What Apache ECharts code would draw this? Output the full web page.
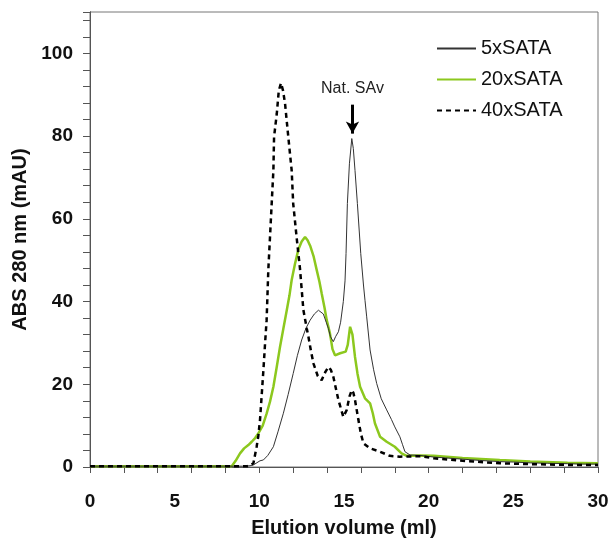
<!DOCTYPE html>
<html>
<head>
<meta charset="utf-8">
<script src="https://cdn.jsdelivr.net/npm/echarts@6/dist/echarts.min.js"></script>
<style>
html,body{margin:0;padding:0;background:#fff;}
#chart{width:610px;height:539px;}
</style>
</head>
<body>
<div id="chart"></div>
<script>
// ---- data (elution volume ml, absorbance mAU) ----
const seriesNames = ['5xSATA', '20xSATA', '40xSATA'];

const x5 = [0, 2, 4, 6, 8, 9, 9.45, 9.65, 10.04, 10.24, 10.5, 10.83, 11.1, 11.42, 11.7, 12.0, 12.25, 12.5, 12.75, 13.0, 13.25, 13.49, 13.78, 13.95, 14.08, 14.2, 14.37, 14.5, 14.67, 14.8, 14.96, 15.06, 15.12, 15.2, 15.32, 15.46, 15.55, 15.65, 15.79, 15.99, 16.15, 16.24, 16.34, 16.54, 16.75, 16.93, 17.2, 17.52, 17.8, 18.0, 18.3, 18.45, 18.6, 18.9, 19.5, 20.3, 21, 22, 23, 24.2, 25, 26, 27, 28.2, 29, 30];
const y5 = [0.2, 0.2, 0.2, 0.2, 0.2, 0.2, 0.3, 0.5, 1.5, 1.7, 2.8, 4.9, 8.5, 13, 17.5, 22.6, 27, 30.7, 33.5, 35.5, 37, 37.9, 37, 35, 33.5, 31.5, 30.3, 31.5, 32.7, 35, 40, 45, 51.6, 63.7, 73.3, 79.4, 77, 71.7, 63.7, 51.6, 44, 40.3, 36.3, 28.3, 23.5, 20.2, 16.5, 13.8, 11.5, 9.7, 7.3, 5.5, 3.7, 2.9, 2.8, 2.4, 2.2, 1.9, 1.6, 1.3, 1.2, 1.0, 0.9, 0.8, 0.7, 0.7];

const x20 = [0, 2, 4, 6, 8, 8.37, 8.6, 8.86, 9.1, 9.35, 9.55, 9.75, 9.94, 10.2, 10.43, 10.63, 10.83, 11.02, 11.22, 11.42, 11.62, 11.78, 11.91, 12.1, 12.3, 12.5, 12.7, 12.85, 13.0, 13.2, 13.39, 13.55, 13.68, 13.85, 13.98, 14.17, 14.32, 14.47, 14.77, 15.1, 15.22, 15.36, 15.42, 15.5, 15.65, 15.8, 15.95, 16.24, 16.54, 16.7, 16.83, 17.13, 17.52, 18.0, 18.4, 18.7, 19.5, 20.3, 22, 24.2, 26, 28.2, 30];
const y20 = [0.2, 0.2, 0.2, 0.2, 0.2, 0.2, 1.5, 3.3, 4.5, 5.3, 6.1, 7.0, 8.1, 10, 12.9, 15.8, 19.4, 24, 29, 33.5, 37.9, 41.5, 45.2, 49, 52.5, 54.5, 55.6, 54.8, 53.5, 51, 47.6, 44.8, 42, 38.5, 35.5, 32.3, 28.5, 27, 27.5, 27.9, 29.5, 33.9, 34.3, 32, 26.6, 22.5, 19.4, 16.6, 15.4, 13, 10.5, 7.3, 6.1, 4.9, 3.3, 2.7, 2.8, 2.7, 2.2, 1.7, 1.3, 1.0, 0.9];

const x40 = [0, 2, 4, 6, 8, 9.3, 9.45, 9.65, 9.84, 9.94, 10.04, 10.24, 10.34, 10.43, 10.53, 10.63, 10.73, 10.83, 10.87, 11.03, 11.15, 11.28, 11.4, 11.52, 11.71, 11.91, 12.0, 12.2, 12.4, 12.6, 12.8, 12.9, 13.05, 13.2, 13.45, 13.68, 13.9, 14.08, 14.22, 14.37, 14.52, 14.67, 14.96, 15.16, 15.32, 15.46, 15.55, 15.65, 15.85, 16.0, 16.15, 16.54, 17.13, 17.7, 18.3, 19.6, 20.3, 22, 24.2, 26, 28.2, 30];
const y40 = [0.2, 0.2, 0.2, 0.2, 0.2, 0.2, 0.3, 0.9, 4.9, 7.5, 11.4, 23.4, 30, 35.5, 47.6, 55.6, 63.7, 71.7, 79.8, 85.4, 91, 92.8, 91, 87.8, 79.8, 71.7, 63.7, 55.6, 48, 38, 33.5, 31.5, 28, 25, 22, 21, 23, 24.2, 23.5, 21.8, 19, 16.2, 12.1, 13.8, 17, 18.6, 18, 16.2, 11.4, 8, 5.7, 4.5, 3.7, 2.7, 2.5, 2.6, 2.1, 1.5, 0.9, 0.7, 0.5, 0.5];

const annotationText = 'Nat. SAv';
const arrowX = 15.5;
const arrowFrom = 87.6;
const arrowTo = 80.6;

const xLabelStep = 5, xTickStep = 2, xMax = 30;
const yLabelStep = 20, yTickStep = 4, yMax = 110;

const zip = (xs, ys) => xs.map((v, i) => [v, ys[i]]);

const chart = echarts.init(document.getElementById('chart'), null, {renderer: 'canvas'});
const FONT = 'Liberation Sans, Arial, sans-serif';
const axisLineColor = '#555';

chart.setOption({
  animation: false,
  backgroundColor: '#fff',
  grid: {left: 90, right: 12, top: 12, bottom: 72, containLabel: false, outerBoundsMode: 'none',
         show: true, borderColor: '#777', borderWidth: 1, backgroundColor: 'transparent'},
  legend: {
    orient: 'vertical', left: 431, top: 33.5,
    itemWidth: 39, itemHeight: 14, itemGap: 11, itemTextGap: 6,
    itemStyle: {opacity: 0},
    textStyle: {fontFamily: FONT, fontSize: 20, color: '#111', lineHeight: 20},
    data: seriesNames
  },
  xAxis: [
    {type: 'value', min: 0, max: xMax, interval: xLabelStep,
     name: 'Elution volume (ml)', nameLocation: 'middle', nameGap: 51,
     nameTextStyle: {fontFamily: FONT, fontSize: 20, fontWeight: 'bold', color: '#111'},
     axisLine: {show: true, onZero: false, lineStyle: {color: axisLineColor, width: 1}},
     axisTick: {show: false},
     axisLabel: {fontFamily: FONT, fontSize: 19, fontWeight: 'bold', color: '#111', margin: 25},
     splitLine: {show: false}},
    {type: 'value', min: 0, max: xMax, interval: xTickStep, position: 'bottom',
     axisLine: {show: true, onZero: false, lineStyle: {color: axisLineColor, width: 1}},
     axisTick: {show: true, inside: false, length: 6, lineStyle: {color: axisLineColor}},
     axisLabel: {show: false}, splitLine: {show: false}}
  ],
  yAxis: [
    {type: 'value', min: 0, max: yMax, interval: yLabelStep,
     name: 'ABS 280 nm (mAU)', nameLocation: 'middle', nameGap: 53, nameRotate: 90,
     nameTextStyle: {fontFamily: FONT, fontSize: 20, fontWeight: 'bold', color: '#111'},
     axisLine: {show: true, onZero: false, lineStyle: {color: axisLineColor, width: 1}},
     axisTick: {show: false},
     axisLabel: {fontFamily: FONT, fontSize: 19, fontWeight: 'bold', color: '#111', margin: 17,
       formatter: v => (v % yLabelStep === 0 ? String(v) : '')},
     splitLine: {show: false}},
    {type: 'value', min: 0, max: yMax, interval: yTickStep, position: 'left',
     axisLine: {show: true, onZero: false, lineStyle: {color: axisLineColor, width: 1}},
     axisTick: {show: true, inside: false, length: 7, lineStyle: {color: axisLineColor}},
     axisLabel: {show: false}, splitLine: {show: false}}
  ],
  series: [
    {name: seriesNames[0], type: 'line', xAxisIndex: 0, yAxisIndex: 0, symbol: 'none', z: 3,
     data: zip(x5, y5), lineStyle: {color: '#333', width: 1}, itemStyle: {color: '#333', opacity: 0},
     markLine: {
       silent: true, symbol: ['none', 'arrow'], symbolSize: [10, 12],
       lineStyle: {color: '#000', width: 3, type: 'solid', opacity: 1},
       label: {show: true, position: 'start', formatter: annotationText, distance: 8,
         fontFamily: FONT, fontSize: 16, color: '#222'},
       data: [[{coord: [arrowX, arrowFrom]}, {coord: [arrowX, arrowTo]}]]
     }},
    {name: seriesNames[1], type: 'line', xAxisIndex: 0, yAxisIndex: 0, symbol: 'none', z: 2,
     data: zip(x20, y20), lineStyle: {color: '#8cc81e', width: 2.5}, itemStyle: {color: '#8cc81e', opacity: 0}},
    {name: seriesNames[2], type: 'line', xAxisIndex: 0, yAxisIndex: 0, symbol: 'none', z: 4,
     data: zip(x40, y40), lineStyle: {color: '#000', width: 2.5, type: [5, 4]}, itemStyle: {color: '#000', opacity: 0}}
  ]
});
</script>
</body>
</html>
